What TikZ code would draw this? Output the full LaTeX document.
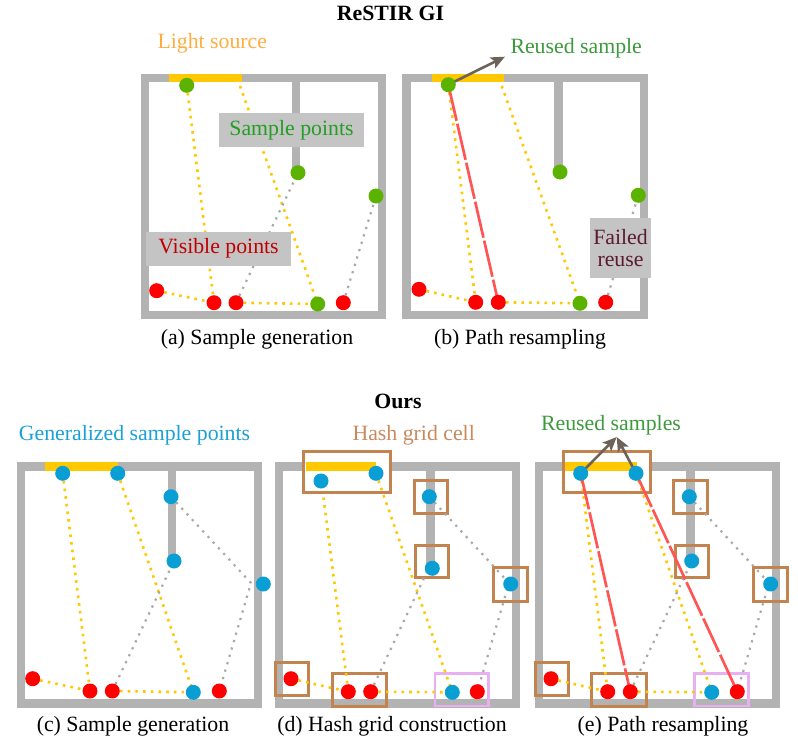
\documentclass[tikz,border=0pt]{standalone}
\usepackage{fontspec}
\setmainfont{Liberation Serif}
\usetikzlibrary{arrows.meta}
\definecolor{wallgray}{HTML}{B3B3B3}
\definecolor{lightyel}{HTML}{FFC800}
\definecolor{dotgreen}{HTML}{5BB300}
\definecolor{dotred}{HTML}{FF0000}
\definecolor{dotblue}{HTML}{0A9FD4}
\definecolor{pathred}{HTML}{FF5555}
\definecolor{arrowbrown}{HTML}{6E6259}
\definecolor{cellbrown}{HTML}{C3834F}
\definecolor{cellpink}{HTML}{E8B0F0}
\definecolor{labelgray}{HTML}{C4C4C4}
\definecolor{lsorange}{HTML}{FFAD40}
\definecolor{txtgreen}{HTML}{229E22}
\definecolor{reusegreen}{HTML}{3C9A3C}
\definecolor{txtred}{HTML}{C00000}
\definecolor{txtmaroon}{HTML}{5C1A30}
\definecolor{txtblue}{HTML}{1AA0D8}
\definecolor{txtbrown}{HTML}{C8895C}
\definecolor{dotgray}{HTML}{A8A8A8}
\pgfdeclarelayer{walls}
\pgfdeclarelayer{lines}
\pgfsetlayers{walls,lines,main}
\begin{document}
\begin{tikzpicture}[x=1pt,y=-1pt,
  wall/.style={draw=wallgray,line width=8.5pt},
  lightbar/.style={draw=lightyel,line width=8.5pt},
  dotnode/.style={circle,inner sep=0pt,minimum size=15pt,draw=none},
  gpt/.style={dotnode,fill=dotgreen},
  rpt/.style={dotnode,fill=dotred},
  bpt/.style={dotnode,fill=dotblue},
  ydot/.style={draw=lightyel,line width=2.6pt,dash pattern=on 2.6pt off 5.1pt},
  gdot/.style={draw=dotgray,line width=2.2pt,dash pattern=on 2.2pt off 5.5pt},
  reuse/.style={draw=pathred,line width=2.7pt,dash pattern=on 37pt off 3pt},
  reusearrow/.style={draw=arrowbrown,line width=2.6pt,-{Stealth[length=14pt,width=12pt,inset=3pt]}},
  cell/.style={draw=cellbrown,line width=3pt},
  pinkcell/.style={draw=cellpink,line width=2.6pt},
  txt/.style={inner sep=0pt,font=\fontsize{21.8}{25}\selectfont},
  labelbox/.style={fill=labelgray,inner sep=0pt,font=\fontsize{21.8}{25}\selectfont}]
\useasboundingbox (0,0) rectangle (798,741);

% ---------------- titles and captions ----------------
\node[txt,anchor=base,font=\fontsize{21.8}{25}\selectfont\bfseries] (title1) at (390.5,20.7) {ReSTIR GI};
\node[txt,anchor=base,font=\fontsize{21.8}{25}\selectfont\bfseries] (title2) at (398,408.3) {Ours};
\node[txt,anchor=base] (capa) at (257,344) {(a) Sample generation};
\node[txt,anchor=base] (capb) at (520,344) {(b) Path resampling};
\node[txt,anchor=base] (capc) at (133,731) {(c) Sample generation};
\node[txt,anchor=base] (capd) at (392,731) {(d) Hash grid construction};
\node[txt,anchor=base] (cape) at (663,731) {(e) Path resampling};

% ---------------- panel (a) ----------------
\begin{pgfonlayer}{walls}
\draw[wall] (145,78) rectangle (382,315);
\draw[wall] (296,78) -- (296,173);
\draw[lightbar] (169.3,78) -- (241.7,78);
\end{pgfonlayer}
\node[gpt] (a-g1) at (186.7,85.3) {};
\node[gpt] (a-g2) at (298,172.7) {};
\node[gpt] (a-g3) at (376,196) {};
\node[gpt] (a-g4) at (317.7,304) {};
\node[rpt] (a-r1) at (156.7,290.7) {};
\node[rpt] (a-r2) at (214,302.7) {};
\node[rpt] (a-r3) at (236,302.7) {};
\node[rpt] (a-r4) at (343.3,302.7) {};
\coordinate (a-le) at (240,86);
\begin{pgfonlayer}{lines}
\draw[ydot] (a-g1.center) -- (a-r2.center);
\draw[ydot] (a-le) -- (a-g4.center);
\draw[ydot] (a-r1.center) -- (a-r2.center);
\draw[ydot] (a-r3.center) -- (a-g4.center);
\draw[gdot] (a-r3.center) -- (a-g2.center);
\draw[gdot] (a-r4.center) -- (a-g3.center);
\end{pgfonlayer}
\node[labelbox,minimum width=145pt,minimum height=33.4pt,text=txtgreen] (a-sp) at (291.5,130) {Sample points};
\node[labelbox,minimum width=145pt,minimum height=34pt,text=txtred] (a-vp) at (218.5,248.7) {Visible points};
\node[txt,anchor=base,text=lsorange] (a-ls) at (212.3,48.3) {Light source};

% ---------------- panel (b) ----------------
\begin{pgfonlayer}{walls}
\draw[wall] (406.5,78) rectangle (644,315);
\draw[wall] (558.3,78) -- (558.3,172);
\draw[lightbar] (431.7,78) -- (504.3,78);
\end{pgfonlayer}
\node[gpt] (b-g1) at (448.3,84.7) {};
\node[gpt] (b-g2) at (560,172) {};
\node[gpt] (b-g3) at (638.3,195.3) {};
\node[gpt] (b-g4) at (580,303.3) {};
\node[rpt] (b-r1) at (419,289.3) {};
\node[rpt] (b-r2) at (475.7,302.3) {};
\node[rpt] (b-r3) at (498.3,302.3) {};
\node[rpt] (b-r4) at (605.7,302.3) {};
\coordinate (b-le) at (501.7,86);
\coordinate (b-at) at (505,56.7);
\begin{pgfonlayer}{lines}
\draw[ydot] (b-g1.center) -- (b-r2.center);
\draw[ydot] (b-le) -- (b-g4.center);
\draw[ydot] (b-r1.center) -- (b-r2.center);
\draw[ydot] (b-r3.center) -- (b-g4.center);
\draw[gdot] (b-r4.center) -- (b-g3.center);
\draw[reuse] (b-g1.center) -- (b-r3.center);
\draw[reusearrow] (b-g1.center) -- (b-at);
\end{pgfonlayer}
\node[labelbox,minimum width=61pt,minimum height=59.4pt,text=txtmaroon,align=center,font=\fontsize{21.8}{22.6}\selectfont] (b-fr) at (620.5,248) {Failed\\reuse};
\node[txt,anchor=base,text=reusegreen] (b-rs) at (576.2,54) {Reused sample};

% ---------------- panel (c) ----------------
\begin{pgfonlayer}{walls}
\draw[wall] (21,466.5) rectangle (258,703.5);
\draw[wall] (172,466.5) -- (172,561);
\draw[lightbar] (45.3,466.5) -- (117.7,466.5);
\end{pgfonlayer}
\node[bpt] (c-b1) at (62.7,473.3) {};
\node[bpt] (c-b2) at (117.7,473.3) {};
\node[bpt] (c-b3) at (171,496.7) {};
\node[bpt] (c-b4) at (174,561) {};
\node[bpt] (c-b5) at (263.3,584) {};
\node[bpt] (c-b6) at (193.3,692.3) {};
\node[rpt] (c-r1) at (32.7,678.7) {};
\node[rpt] (c-r2) at (90,691) {};
\node[rpt] (c-r3) at (112.3,691) {};
\node[rpt] (c-r4) at (219.3,691) {};
\coordinate (c-v) at (251,583);
\begin{pgfonlayer}{lines}
\draw[ydot] (c-b1.center) -- (c-r2.center);
\draw[ydot] (c-b2.center) -- (c-b6.center);
\draw[ydot] (c-r1.center) -- (c-r2.center);
\draw[ydot] (c-r3.center) -- (c-b6.center);
\draw[gdot] (c-r3.center) -- (c-b4.center);
\draw[gdot] (c-b3.center) -- (c-v) -- (c-r4.center);
\end{pgfonlayer}
\node[txt,anchor=base,text=txtblue] (c-gs) at (134.5,440.7) {Generalized sample points};

% ---------------- panel (d) ----------------
\begin{pgfonlayer}{walls}
\draw[wall] (279,466.5) rectangle (516,703.5);
\draw[wall] (430.7,466.5) -- (430.7,568);
\fill[white] (303.3,451.7) rectangle (390,492);
\draw[lightbar] (305.7,466.5) -- (376,466.5);
\draw[cell] (303.3,451.7) rectangle (390,492);
\draw[cell] (414,480) rectangle (447,513.3);
\draw[cell] (415.7,545) rectangle (448.7,577.7);
\draw[cell] (493.7,567.7) rectangle (527,601);
\draw[cell] (275,662.7) rectangle (308.3,695.3);
\draw[cell] (332.7,673.3) rectangle (386,706);
\draw[pinkcell] (435,673.3) rectangle (488.3,706);
\end{pgfonlayer}
\node[bpt] (d-b1) at (321,481) {};
\node[bpt] (d-b2) at (376,473.3) {};
\node[bpt] (d-b3) at (429.3,496.7) {};
\node[bpt] (d-b4) at (432.3,568.3) {};
\node[bpt] (d-b5) at (510.7,584) {};
\node[bpt] (d-b6) at (452.3,692.3) {};
\node[rpt] (d-r1) at (291,678.7) {};
\node[rpt] (d-r2) at (348.3,691.7) {};
\node[rpt] (d-r3) at (370.7,691.7) {};
\node[rpt] (d-r4) at (477.3,691.7) {};
\coordinate (d-s) at (323.5,497.5);
\coordinate (d-v) at (509,583);
\coordinate (d-w) at (432,561);
\begin{pgfonlayer}{lines}
\draw[ydot] (d-s) -- (d-r2.center);
\draw[ydot] (d-b2.center) -- (d-b6.center);
\draw[ydot] (d-r1.center) -- (d-r2.center);
\draw[ydot] (d-r3.center) -- (d-b6.center);
\draw[gdot] (d-r3.center) -- (d-w);
\draw[gdot] (d-b3.center) -- (d-v) -- (d-r4.center);
\end{pgfonlayer}
\node[txt,anchor=base,text=txtbrown] (d-hc) at (413.7,440.7) {Hash grid cell};

% ---------------- panel (e) ----------------
\begin{pgfonlayer}{walls}
\draw[wall] (539,466.5) rectangle (776,703.5);
\draw[wall] (690.7,466.5) -- (690.7,561);
\fill[white] (563.3,451.7) rectangle (650,492);
\draw[lightbar] (564.3,466.5) -- (636.7,466.5);
\draw[cell] (563.3,451.7) rectangle (650,492);
\draw[cell] (673.3,480) rectangle (707,513.3);
\draw[cell] (675.7,545) rectangle (708.7,577.7);
\draw[cell] (753.7,567.7) rectangle (787,601);
\draw[cell] (535,662.7) rectangle (568.3,695.3);
\draw[cell] (591.7,673.3) rectangle (646,706);
\draw[pinkcell] (694.3,673.3) rectangle (748.3,706);
\end{pgfonlayer}
\node[bpt] (e-b1) at (580.7,473.3) {};
\node[bpt] (e-b2) at (636,473.3) {};
\node[bpt] (e-b3) at (689.3,496.7) {};
\node[bpt] (e-b4) at (691.7,561) {};
\node[bpt] (e-b5) at (770.7,584) {};
\node[bpt] (e-b6) at (711.7,692.3) {};
\node[rpt] (e-r1) at (551,678.7) {};
\node[rpt] (e-r2) at (607.7,691.7) {};
\node[rpt] (e-r3) at (630.3,691.7) {};
\node[rpt] (e-r4) at (737.3,691.7) {};
\coordinate (e-v) at (769,583);
\coordinate (e-at) at (616.7,437);
\begin{pgfonlayer}{lines}
\draw[ydot] (e-b1.center) -- (e-r2.center);
\draw[ydot] (e-b2.center) -- (e-b6.center);
\draw[ydot] (e-r1.center) -- (e-r2.center);
\draw[ydot] (e-r3.center) -- (e-b6.center);
\draw[gdot] (e-r3.center) -- (e-b4.center);
\draw[gdot] (e-b3.center) -- (e-v) -- (e-r4.center);
\draw[reuse] (e-b1.center) -- (e-r3.center);
\draw[reuse] (e-b2.center) -- (e-r4.center);
\draw[reusearrow] (e-b1.center) -- (e-at);
\draw[reusearrow] (e-b2.center) -- (e-at);
\end{pgfonlayer}
\node[txt,anchor=base,text=reusegreen] (e-rs) at (611,430) {Reused samples};
\end{tikzpicture}
\end{document}
